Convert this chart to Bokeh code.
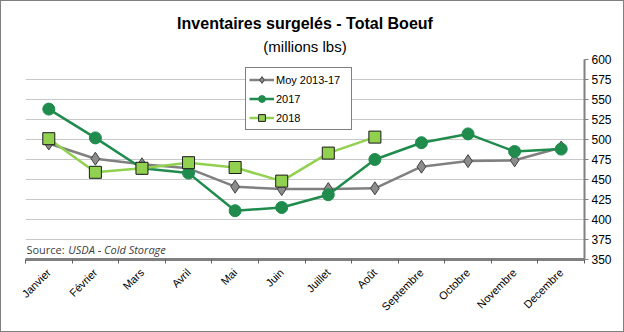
import math
from bokeh.plotting import figure
from bokeh.models import (Range1d, LinearAxis, FixedTicker, Label, Legend, LegendItem, Title)
from bokeh.embed import file_html
from bokeh.resources import INLINE

months = ["Janvier", "Février", "Mars", "Avril", "Mai", "Juin", "Juillet", "Août",
          "Septembre", "Octobre", "Novembre", "Decembre"]
moy_2013_17 = [495, 476, 469, 464, 441, 438, 438, 439, 466, 473, 474, 490]
y2017 = [538, 502, 464, 458, 411, 415, 431, 475, 496, 507, 485, 488]
y2018 = [501, 459, 464, 471, 465, 448, 483, 503]
y_ticks = [350, 375, 400, 425, 450, 475, 500, 525, 550, 575, 600]

xs = list(range(len(months)))

p = figure(width=624, height=332, output_backend="svg", toolbar_location=None,
           x_range=Range1d(-0.5, len(months) - 0.5), y_range=Range1d(350, 600),
           x_axis_location=None, y_axis_location=None,
           min_border_left=24, min_border_right=41, min_border_top=58, min_border_bottom=74)
p.outline_line_color = None
p.background_fill_color = "white"
p.border_fill_color = "white"
p.styles = {"border": "1px solid #7f7f7f", "box-sizing": "border-box"}

# titles (first added sits closest to the plot)
p.add_layout(Title(text="(millions lbs)", align="center",
                   text_font="Liberation Sans", text_font_size="15px",
                   text_font_style="normal", text_color="black", standoff=9), "above")
p.add_layout(Title(text="Inventaires surgelés - Total Boeuf", align="center",
                   text_font="Liberation Sans", text_font_size="16px",
                   text_font_style="bold", text_color="black", standoff=0), "above")

# axes
yaxis = LinearAxis(ticker=FixedTicker(ticks=y_ticks))
yaxis.axis_line_color = "#808080"
yaxis.axis_line_width = 2
yaxis.major_tick_line_color = "#808080"
yaxis.major_tick_in = 0
yaxis.major_tick_out = 4
yaxis.minor_tick_line_color = None
yaxis.major_label_text_font = "Liberation Sans"
yaxis.major_label_text_font_size = "12px"
yaxis.major_label_text_color = "black"
yaxis.major_label_standoff = 3
p.add_layout(yaxis, "right")

xaxis = LinearAxis(ticker=FixedTicker(ticks=xs, minor_ticks=[i - 0.5 for i in range(len(months) + 1)]))
xaxis.major_label_overrides = {i: m for i, m in enumerate(months)}
xaxis.axis_line_color = "#808080"
xaxis.axis_line_width = 3
xaxis.major_tick_line_color = None
xaxis.minor_tick_line_color = "#606060"
xaxis.minor_tick_in = 0
xaxis.minor_tick_out = 4
xaxis.major_label_orientation = math.pi / 4
xaxis.major_label_text_font = "Liberation Sans"
xaxis.major_label_text_font_size = "11px"
xaxis.major_label_text_color = "black"
xaxis.major_label_standoff = 5
p.add_layout(xaxis, "below")

p.xgrid.grid_line_color = None
p.ygrid.ticker = FixedTicker(ticks=y_ticks)
p.ygrid.grid_line_color = "#c8c8c8"
p.ygrid.grid_line_width = 1

# series
l1 = p.line(xs, moy_2013_17, line_color="#808080", line_width=2.5)
s1 = p.scatter(xs, moy_2013_17, marker="diamond", size=13, fill_color="#8c8c8c",
               line_color="#404040", line_width=1)
l2 = p.line(xs, y2017, line_color="#1f8b4c", line_width=2.5)
s2 = p.scatter(xs, y2017, marker="circle", size=12, fill_color="#1f8b4c", line_color="#1f8b4c")
x18 = xs[:len(y2018)]
l3 = p.line(x18, y2018, line_color="#92d050", line_width=2.5)
s3 = p.scatter(x18, y2018, marker="square", size=12, fill_color="#92d050",
               line_color="#1a1a1a", line_width=1)

legend = Legend(items=[LegendItem(label="Moy 2013-17", renderers=[l1, s1]),
                       LegendItem(label="2017", renderers=[l2, s2]),
                       LegendItem(label="2018", renderers=[l3, s3])],
                location=(220, 129))
legend.border_line_color = "black"
legend.border_line_width = 1
legend.background_fill_color = "white"
legend.background_fill_alpha = 1
legend.label_text_font = "Liberation Sans"
legend.label_text_font_size = "11px"
legend.label_text_color = "black"
legend.glyph_width = 25
legend.glyph_height = 17
legend.label_height = 17
legend.label_width = 72
legend.label_standoff = 2
legend.spacing = 2
legend.padding = 3
legend.margin = 0
p.add_layout(legend, "center")

p.add_layout(Label(x=-0.48, y=362, text="Source:",
                   text_font="Open Sans", text_font_size="11px",
                   text_align="left", text_baseline="middle", text_color="#404040"))
p.add_layout(Label(x=0.42, y=362, text="USDA - Cold Storage",
                   text_font="Open Sans", text_font_size="11px", text_font_style="italic",
                   text_align="left", text_baseline="middle", text_color="#404040"))

open("out.html", "w").write(file_html(p, INLINE))
